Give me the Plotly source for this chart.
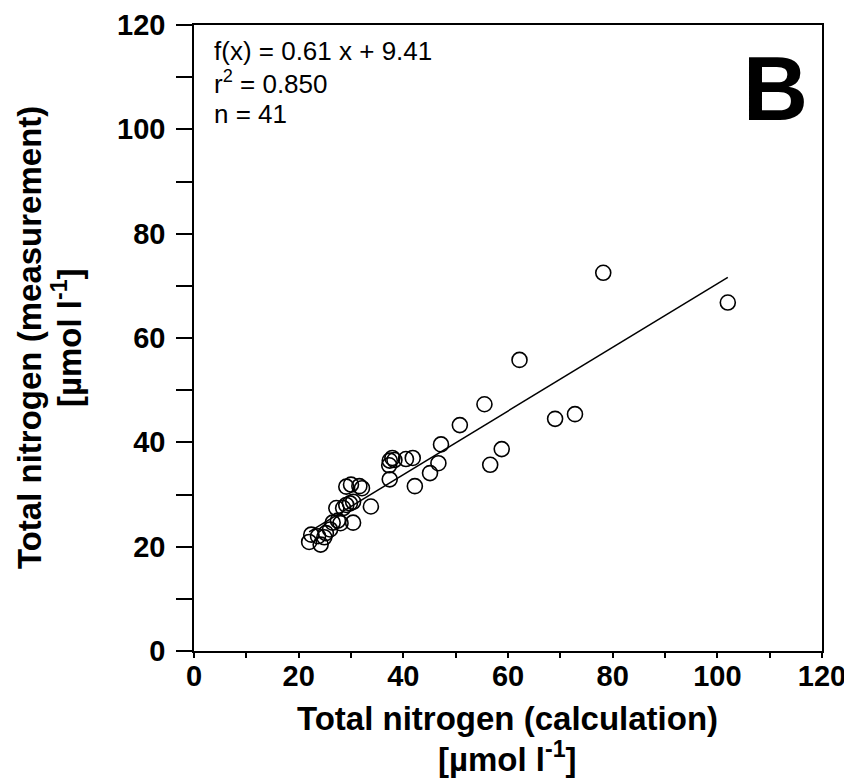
import plotly.graph_objects as go

calc = [102.0, 78.2, 72.8, 69.0, 62.2, 55.5, 58.8, 56.6, 50.8, 47.2,
        46.7, 45.1, 42.2, 41.8, 40.5, 37.4, 33.8, 37.4, 37.9, 37.3,
        38.3, 29.1, 30.0, 31.6, 32.1, 29.8, 29.1, 30.4, 28.5, 22.0,
        22.4, 23.7, 24.2, 24.9, 25.2, 26.0, 26.5, 27.5, 28.0, 30.4, 27.2]
meas = [66.8, 72.5, 45.4, 44.5, 55.8, 47.3, 38.7, 35.7, 43.3, 39.6,
        36.0, 34.1, 31.6, 37.0, 36.8, 32.9, 27.7, 36.5, 37.0, 35.6,
        36.6, 31.5, 31.9, 31.6, 31.2, 28.3, 28.0, 28.6, 27.4, 20.9,
        22.3, 22.0, 20.4, 21.8, 22.6, 23.3, 24.6, 25.0, 24.5, 24.6, 27.4]

slope = 0.61
intercept = 9.41
r2_text = "0.850"

x_ticks = [0, 20, 40, 60, 80, 100, 120]
y_ticks = [0, 20, 40, 60, 80, 100, 120]

FONT = "Liberation Sans, Arial, Helvetica, sans-serif"

line_x = [min(calc), max(calc)]
line_y = [slope * v + intercept for v in line_x]

fig = go.Figure()
fig.add_trace(go.Scatter(x=line_x, y=line_y, mode="lines",
                         line=dict(color="black", width=1.5), showlegend=False,
                         hoverinfo="skip"))
fig.add_trace(go.Scatter(x=calc, y=meas, mode="markers",
                         marker=dict(symbol="circle-open", size=15, color="black",
                                     line=dict(width=1.6)),
                         showlegend=False))

# page body has an 8px margin, so the figure is slightly smaller
OFF = 8
W, H = 852 - OFF, 782 - OFF
ml, mr, mt, mb = 194 - OFF, 30, 25 - OFF, 131
pw = W - ml - mr
ph = H - mt - mb

def px_x(px):
    return (px - OFF - ml) / pw

def px_y(py):
    return (H - mb - (py - OFF)) / ph

axis_common = dict(
    range=[0, 120], showgrid=False, zeroline=False, showline=True,
    linecolor="black", linewidth=1.5, mirror=True, ticks="outside",
    tickcolor="black", tickwidth=1.5, automargin=False,
    tickfont=dict(family=FONT, size=29, color="black", weight="bold"),
)

fig.update_xaxes(**axis_common, tickmode="array", tickvals=x_ticks,
                 ticklen=5, ticklabelstandoff=-7,
                 minor=dict(dtick=10, ticks="outside", ticklen=5,
                            tickwidth=1.5, tickcolor="black"))
fig.update_yaxes(**axis_common, tickmode="array", tickvals=y_ticks,
                 ticklen=16, ticklabelstandoff=5,
                 minor=dict(dtick=10, ticks="outside", ticklen=16,
                            tickwidth=1.5, tickcolor="black"))

title_font = dict(family=FONT, size=33, color="black", weight="bold")
ann = []
ann.append(dict(text="Total nitrogen (calculation)", x=px_x(507), y=px_y(718),
                xref="paper", yref="paper", showarrow=False, font=title_font,
                xanchor="center", yanchor="middle"))
ann.append(dict(text="[µmol l<sup>-1</sup>]", x=px_x(507), y=px_y(757),
                xref="paper", yref="paper", showarrow=False, font=title_font,
                xanchor="center", yanchor="middle"))
ann.append(dict(text="Total nitrogen (measurement)", x=px_x(29), y=px_y(338),
                xref="paper", yref="paper", showarrow=False, font=title_font,
                textangle=-90, xanchor="center", yanchor="middle"))
ann.append(dict(text="[µmol l<sup>-1</sup>]", x=px_x(67), y=px_y(338),
                xref="paper", yref="paper", showarrow=False, font=title_font,
                textangle=-90, xanchor="center", yanchor="middle"))

stat_font = dict(family=FONT, size=26, color="black")
ann.append(dict(text=f"f(x) = {slope:.2f} x + {intercept:.2f}", x=px_x(212), y=px_y(51),
                xref="paper", yref="paper", showarrow=False, font=stat_font,
                xanchor="left", yanchor="middle"))
ann.append(dict(text=f"r<sup>2</sup> = {r2_text}", x=px_x(212), y=px_y(82),
                xref="paper", yref="paper", showarrow=False, font=stat_font,
                xanchor="left", yanchor="middle"))
ann.append(dict(text=f"n = {len(calc)}", x=px_x(212), y=px_y(114),
                xref="paper", yref="paper", showarrow=False, font=stat_font,
                xanchor="left", yanchor="middle"))
ann.append(dict(text="B", x=px_x(775), y=px_y(89),
                xref="paper", yref="paper", showarrow=False,
                font=dict(family=FONT, size=90, color="black", weight="bold"),
                xanchor="center", yanchor="middle"))

fig.update_layout(
    width=W, height=H,
    margin=dict(l=ml, r=mr, t=mt, b=mb, pad=0, autoexpand=False),
    paper_bgcolor="white", plot_bgcolor="white",
    annotations=ann, showlegend=False,
)

fig.write_html("out.html")
